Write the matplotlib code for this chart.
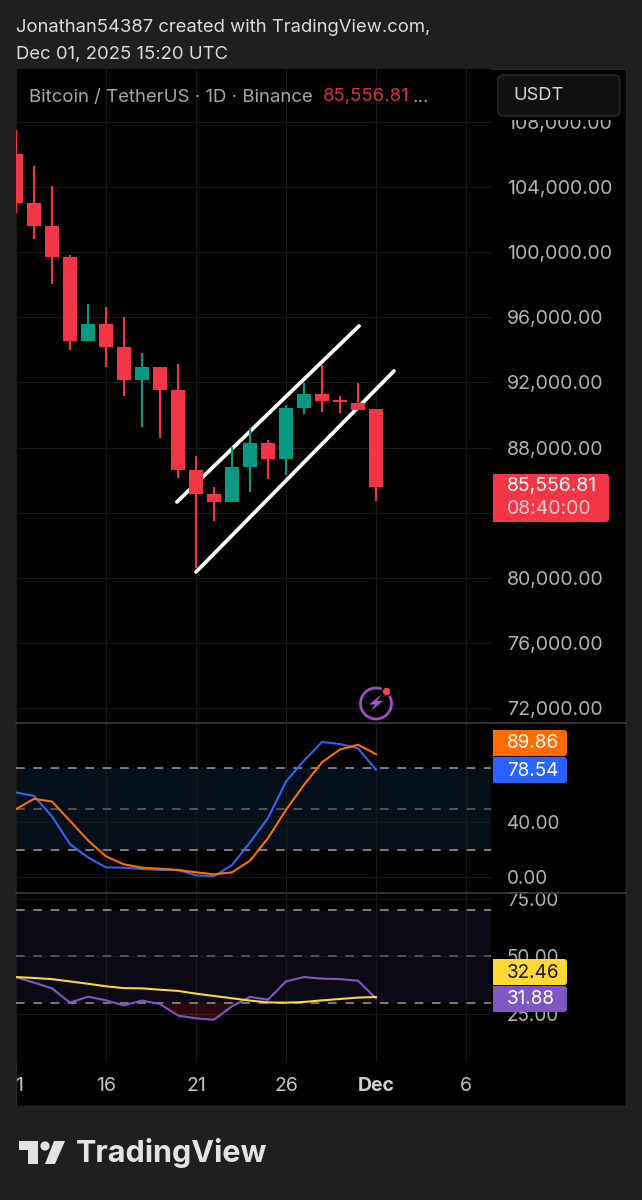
import matplotlib
matplotlib.use("Agg")
import matplotlib.pyplot as plt
from matplotlib.patches import Circle, FancyBboxPatch, Polygon, Rectangle

W, H = 642, 1200

# candles, day 0 is Nov 11
days = list(range(21))
opens = [106060, 103050, 101630, 99720, 94550, 95600, 94190, 92150, 92950, 91540, 86620,
         85140, 84650, 86800, 88280, 87290, 90430, 91290, 90920, 90740, 90370]
highs = [107540, 105320, 104090, 99850, 96830, 96650, 96030, 93820, 92950, 93140, 87480,
         85570, 88030, 89200, 88460, 90620, 91970, 93080, 91170, 91970, 90370]
lows = [102430, 100830, 98060, 94000, 94550, 92950, 91170, 89260, 88590, 86120, 80590,
        83480, 84650, 85260, 86060, 86310, 90060, 90190, 90120, 90310, 84710]
closes = [103050, 101630, 99720, 94550, 95600, 94190, 92150, 92950, 91540, 86620, 85140,
          84650, 86800, 88280, 87290, 90430, 91290, 90860, 90800, 90310, 85557]

# hand drawn channel
upper_days = [8.94, 19.06]
upper_prices = [84650, 95480]
lower_days = [10.0, 21.0]
lower_prices = [80340, 92710]

stoch_k = [61.8, 59.3, 44.3, 24.1, 14.4, 7.1, 6.9, 5.9, 5.2, 5.2, 1.3,
           0.6, 8.8, 25.3, 43.1, 69.8, 85.1, 98.7, 97.2, 94.1, 78.54]
stoch_d = [49.6, 57.2, 55.2, 41.1, 26.8, 15.1, 9.3, 6.9, 6.1, 5.2, 3.5,
           2.0, 3.5, 12.0, 28.5, 49.1, 67.4, 83.9, 93.3, 96.7, 89.86]
rsi = [41.0, 38.7, 36.2, 30.0, 32.6, 31.0, 28.8, 30.9, 29.4, 24.4, 23.2,
       22.6, 28.4, 32.5, 31.3, 39.2, 41.1, 40.4, 40.2, 39.5, 31.88]
rsi_ma = [41.1, 40.7, 40.2, 39.2, 38.2, 37.1, 36.3, 36.2, 35.6, 35.1, 33.9,
          32.9, 31.9, 30.9, 30.1, 30.0, 30.3, 31.0, 31.6, 32.2, 32.46]

price_ticks = [72000, 76000, 80000, 84000, 88000, 92000, 96000, 100000, 104000, 108000]
stoch_ticks = [0, 40]
rsi_ticks = [25, 50, 75]
time_days = [0, 5, 10, 15, 20, 25]
time_labels = ["11", "16", "21", "26", "Dec", "6"]

BG = "#1f1f1f"
RED = "#F23645"
GREEN = "#089981"
GRID = "#191919"
AXIS_TEXT = "#b2b2b2"

plt.rcParams["font.family"] = ["Inter", "DejaVu Sans"]


def fx(x):
    return x / W


def fy(y):
    return 1 - y / H


def make_axes(top, bottom):
    ax = fig.add_axes([fx(16), fy(bottom), (491 - 16) / W, (bottom - top) / H])
    ax.set_facecolor("black")
    ax.set_xlim(0, (491 - 16) / 18)
    ax.set_xticks(time_days)
    ax.xaxis.set_tick_params(length=0, labelbottom=False)
    ax.yaxis.tick_right()
    ax.tick_params(axis="y", length=0, pad=11.5, labelsize=13.6, labelcolor=AXIS_TEXT)
    ax.grid(True, color=GRID, lw=0.9)
    ax.set_axisbelow(True)
    for s in ax.spines.values():
        s.set_visible(False)
    return ax


def label_box(x0, y0, x1, y1, color, text, tcolor="white", text2=None):
    # square on the left, rounded on the right
    box = FancyBboxPatch((fx(x0 + 6), fy(y1)), (x1 - x0 - 6) / W, (y1 - y0) / H,
                         boxstyle="round,pad=0,rounding_size=0.005", transform=fig.transFigure,
                         fc=color, ec="none", mutation_aspect=W / H, zorder=6)
    fig.add_artist(box)
    fig.add_artist(Rectangle((fx(x0), fy(y1)), 12 / W, (y1 - y0) / H, transform=fig.transFigure,
                             fc=color, ec="none", zorder=6))
    if text2 is None:
        fig.text(fx(x0 + 14), fy((y0 + y1) / 2 + 0.5), text, color=tcolor, fontsize=13.6, va="center", zorder=7)
    else:
        fig.text(fx(x0 + 14), fy(y0 + 12.5), text, color=tcolor, fontsize=14, va="center", zorder=7)
        fig.text(fx(x0 + 14), fy(y0 + 34.5), text2, color="#ffc9cd", fontsize=14, va="center", zorder=7)


fig = plt.figure(figsize=(W / 100, H / 100), dpi=100, facecolor=BG)

# black chart panel with its thin border
fig.add_artist(Rectangle((fx(16), fy(1106)), (626 - 16) / W, (1106 - 69) / H, transform=fig.transFigure,
                         fc="black", ec="#282828", lw=1, zorder=-1))

# price pane
ax = make_axes(69, 722)
ax.set_ylim(71108, 111292)
ax.set_yticks(price_ticks)
# the 84,000 label sits under the last price tag
ax.set_yticklabels([f"{p:,.2f}" if p != 84000 else "" for p in price_ticks])
ax.tick_params(axis="y", labelsize=14.1)
# channel goes under the candles
ax.plot(upper_days, upper_prices, color="white", lw=2.7, solid_capstyle="round", zorder=1.5)
ax.plot(lower_days, lower_prices, color="white", lw=2.7, solid_capstyle="round", zorder=1.5)
for d, o, h, l, c in zip(days, opens, highs, lows, closes):
    color = GREEN if c > o else RED
    ax.vlines(d, l, h, color=color, lw=1.5, zorder=2)
    ax.bar(d, abs(c - o), bottom=min(o, c), width=0.78, color=color, zorder=2)

# stochastic rsi pane
ax2 = make_axes(723, 892)
ax2.set_ylim(-10.9, 112.6)
ax2.set_yticks(stoch_ticks)
ax2.set_yticklabels([f"{v:.2f}" for v in stoch_ticks])
ax2.axhspan(20, 80, color="#04101a", lw=0, zorder=0.5)
for lev, col in [(80, "#8f8f8f"), (50, "#5f5f5f"), (20, "#8f8f8f")]:
    ax2.axhline(lev, color=col, lw=1.2, ls=(0, (5.2, 5.2)), zorder=1)
ax2.plot(days, stoch_k, color="#2F66F0", lw=1.5, zorder=3)
ax2.plot(days, stoch_d, color="#FF6D00", lw=1.5, zorder=3)

# rsi pane
ax3 = make_axes(893, 1062)
ax3.set_ylim(4.3, 77.5)
ax3.set_yticks(rsi_ticks)
ax3.set_yticklabels([f"{v:.2f}" for v in rsi_ticks])
ax3.axhspan(30, 70, color="#0b0914", lw=0, zorder=0.5)
for lev, col in [(70, "#8f8f8f"), (50, "#5f5f5f"), (30, "#8f8f8f")]:
    ax3.axhline(lev, color=col, lw=1.2, ls=(0, (5.2, 5.2)), zorder=1)
ax3.fill_between(days, rsi, 30, where=[v < 30 for v in rsi], interpolate=True,
                 color=RED, alpha=0.18, lw=0, zorder=1.5)
ax3.plot(days, rsi, color="#7E57C2", lw=1.5, zorder=3)
ax3.plot(days, rsi_ma, color="#FDD835", lw=1.5, zorder=3)

# time axis
ax4 = fig.add_axes([fx(16), fy(1105), (491 - 16) / W, 43 / H])
ax4.set_facecolor("black")
ax4.set_xlim(0, (491 - 16) / 18)
ax4.set_ylim(0, 1)
ax4.axis("off")
for d, t in zip(time_days, time_labels):
    ax4.text(d, 0.45, t, ha="center", va="center", color="#c4c4c4" if t != "Dec" else "#d0d0d0",
             fontsize=14, fontweight="bold" if t == "Dec" else "normal", clip_on=True)

# pane separators
for y in [722.7, 892.7]:
    fig.add_artist(plt.Line2D([fx(16), fx(626)], [fy(y), fy(y)], color="#3a3a3a", lw=1.2, zorder=2))

# header and legend
fig.text(fx(16), fy(28), "Jonathan54387 created with TradingView.com,", color="#dcdcdc", fontsize=13.3, va="center")
fig.text(fx(16), fy(55), "Dec 01, 2025 15:20 UTC", color="#dcdcdc", fontsize=13.3, va="center")
fig.text(fx(29), fy(97), "Bitcoin / TetherUS · 1D · Binance", color="#a8a8a8", fontsize=13.4, va="center")
fig.text(fx(323), fy(97), "85,556.81", color="#d6304a", fontsize=13.4, va="center")
fig.text(fx(412), fy(97), "...", color="#a8a8a8", fontsize=13.4, va="center")

# currency button, the black strip under it eats the top of the 108,000 label
fig.add_artist(Rectangle((fx(491.5), fy(120)), 134 / W, 50 / H, transform=fig.transFigure,
                         fc="black", ec="none", zorder=4.5))
fig.add_artist(FancyBboxPatch((fx(498), fy(116)), 122 / W, 41 / H, boxstyle="round,pad=0,rounding_size=0.009",
                              transform=fig.transFigure, fc="#111111", ec="#2c2c2c", lw=1,
                              mutation_aspect=W / H, zorder=5))
fig.text(fx(513), fy(96), "USDT", color="#d6d6d6", fontsize=13.2, va="center", zorder=6)

# last value labels
label_box(493, 474, 609, 522, RED, "85,556.81", text2="08:40:00")
label_box(493, 730, 567, 756, "#FF6D00", "89.86")
label_box(493, 757, 567, 783, "#2962FF", "78.54")
label_box(493, 959, 567, 985, "#FDD835", "32.46", tcolor="#1a1a1a")
label_box(493, 986, 567, 1012, "#7E57C2", "31.88")

# flash icon over the price pane
overlay = fig.add_axes([0, 0, 1, 1], facecolor="none", zorder=4)
overlay.set_xlim(0, W)
overlay.set_ylim(H, 0)
overlay.axis("off")
overlay.add_patch(Circle((376, 703.5), 15.5, fc="black", ec="#a04fc4", lw=2))
overlay.add_patch(Polygon([(382, 694), (369, 704.5), (375, 704.5), (371, 711), (383, 701), (377, 701)],
                          fc="#a650d0", ec="none"))
overlay.add_patch(Circle((386.5, 691.5), 4.6, fc="#EE4050", ec="black", lw=1.2))

# logo
grey = "#e3e3e3"
overlay.add_patch(Polygon([(19, 1141), (38, 1141), (38, 1164), (28, 1164), (28, 1150), (19, 1150)], fc=grey, ec="none"))
overlay.add_patch(Circle((45, 1146), 4.6, fc=grey, ec="none"))
overlay.add_patch(Polygon([(54, 1141), (65, 1141), (55, 1164), (45, 1164)], fc=grey, ec="none"))
fig.text(fx(76), fy(1153), "TradingView", color=grey, fontsize=22, fontweight="bold", va="center", zorder=6)

fig.savefig("out.png", dpi=100, facecolor=BG)
